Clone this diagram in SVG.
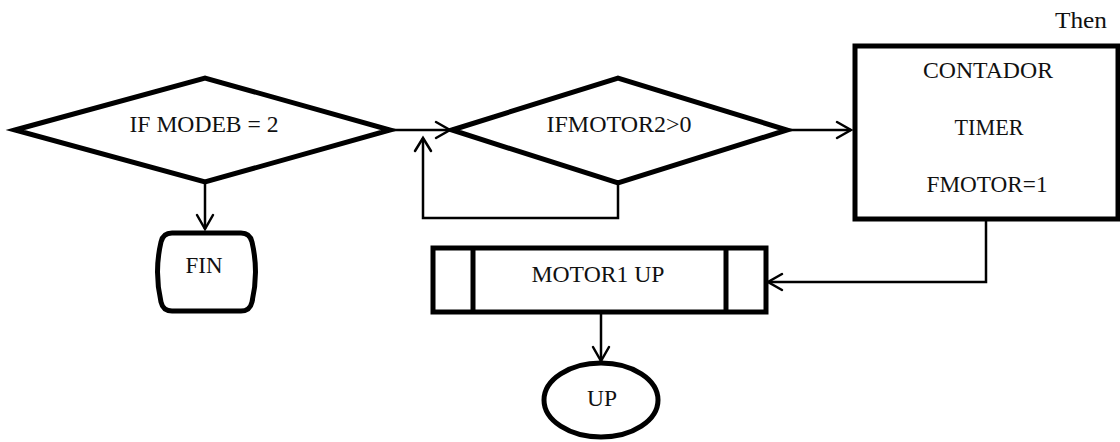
<svg xmlns="http://www.w3.org/2000/svg" width="1120" height="442" viewBox="0 0 1120 442">
<defs>
<style>
.shape{fill:#fff;stroke:#000;stroke-width:5;stroke-linejoin:miter}
.conn{fill:none;stroke:#000;stroke-width:2.5}
.head{fill:none;stroke:#000;stroke-width:2.5;stroke-linecap:round;stroke-linejoin:miter}
.t{font-family:'Liberation Serif','Times New Roman',serif;font-size:23px;fill:#111;text-anchor:middle}
</style>
</defs>
<rect width="1120" height="442" fill="#fff"/>
<g id="connectors">
<path class="conn" d="M390 130 H450"/>
<path class="head" d="M436 122 L450 130 L436 138"/>
<path class="conn" d="M618 183 V218 H423 V138"/>
<path class="head" d="M415 151 L423 138 L431 151"/>
<path class="conn" d="M787 130 H851"/>
<path class="head" d="M837 122 L851 130 L837 138"/>
<path class="conn" d="M986 220 V282 H768"/>
<path class="head" d="M782 274 L768 282 L782 290"/>
<path class="conn" d="M205 182 V229"/>
<path class="head" d="M197 215 L205 229 L213 215"/>
<path class="conn" d="M601 313 V361"/>
<path class="head" d="M593 347 L601 361 L609 347"/>
</g>
<g id="node-modeb">
<polygon class="shape" points="15,130 205,78 390,130 205,182"/>
<text class="t" font-family="Liberation Serif, serif" x="204" y="132" textLength="149" lengthAdjust="spacingAndGlyphs">IF MODEB = 2</text>
</g>
<g id="node-motor2">
<polygon class="shape" points="452,130 618,78 787,130 618,183"/>
<text class="t" font-family="Liberation Serif, serif" x="619" y="132" textLength="145" lengthAdjust="spacingAndGlyphs">IFMOTOR2&gt;0</text>
</g>
<g id="node-then">
<text class="t" font-family="Liberation Serif, serif" x="1081" y="28" textLength="52" lengthAdjust="spacingAndGlyphs">Then</text>
</g>
<g id="node-contador">
<rect class="shape" x="855" y="46" width="263" height="173"/>
<text class="t" font-family="Liberation Serif, serif" x="988" y="78" textLength="130" lengthAdjust="spacingAndGlyphs">CONTADOR</text>
<text class="t" font-family="Liberation Serif, serif" x="989" y="135" textLength="69" lengthAdjust="spacingAndGlyphs">TIMER</text>
<text class="t" font-family="Liberation Serif, serif" x="987" y="192" textLength="121" lengthAdjust="spacingAndGlyphs">FMOTOR=1</text>
</g>
<g id="node-fin">
<path class="shape" d="M172 233 H241 Q250 233 252 242 Q259 272 252 302 Q250 311 241 311 H172 Q163 311 161 302 Q154 272 161 242 Q163 233 172 233 Z"/>
<text class="t" font-family="Liberation Serif, serif" x="204" y="273" textLength="37" lengthAdjust="spacingAndGlyphs">FIN</text>
</g>
<g id="node-motor1up">
<rect class="shape" x="433" y="248" width="333" height="64"/>
<line class="shape" x1="473" y1="248" x2="473" y2="312"/>
<line class="shape" x1="726" y1="248" x2="726" y2="312"/>
<text class="t" font-family="Liberation Serif, serif" x="598" y="282" textLength="133" lengthAdjust="spacingAndGlyphs">MOTOR1 UP</text>
</g>
<g id="node-up">
<ellipse class="shape" cx="601" cy="400" rx="57" ry="37"/>
<text class="t" font-family="Liberation Serif, serif" x="602" y="406" textLength="30" lengthAdjust="spacingAndGlyphs">UP</text>
</g>
</svg>
